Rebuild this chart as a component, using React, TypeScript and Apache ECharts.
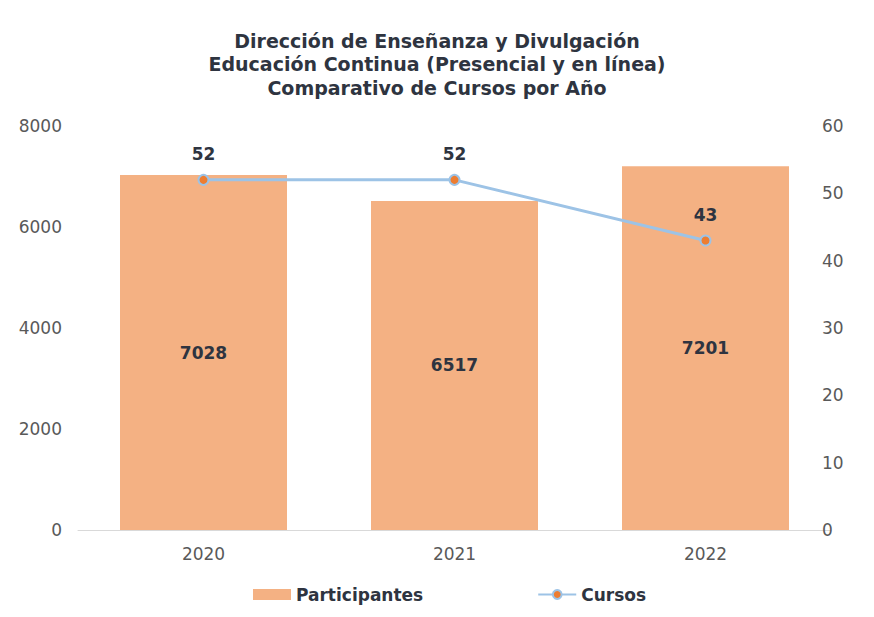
import React, { useEffect, useRef } from "react";
import * as echarts from "echarts";

const categories = ["2020", "2021", "2022"];
const participantes = [7028, 6517, 7201];
const cursos = [52, 52, 43];
const titleLines = [
  "Dirección de Enseñanza y Divulgación",
  "Educación Continua (Presencial y en línea)",
  "Comparativo de Cursos por Año",
];

export default function App() {
  const ref = useRef<HTMLDivElement>(null);
  useEffect(() => {
    if (!ref.current) return;
    const chart = echarts.init(ref.current, null, { renderer: "svg" });
    const font = "'DejaVu Sans', 'Open Sans', sans-serif";
    chart.setOption({
      animation: false,
      backgroundColor: "#ffffff",
      textStyle: { fontFamily: font },
      title: {
        text: titleLines.join("\n"),
        left: "center",
        top: 16,
        textStyle: {
          fontFamily: font,
          fontSize: 19,
          fontWeight: "bold",
          color: "#2E3440",
          lineHeight: 23.5,
        },
      },
      legend: {
        bottom: 1,
        left: 240,
        itemGap: 114,
        itemWidth: 38,
        itemHeight: 11,
        textStyle: { fontFamily: font, fontSize: 17, fontWeight: "bold", color: "#2E3440" },
        data: [
          { name: "Participantes", icon: "rect" },
          { name: "Cursos" },
        ],
      },
      grid: { left: 70, right: 35, top: 118, bottom: 79, containLabel: false },
      xAxis: {
        type: "category",
        data: categories,
        axisLine: { show: true, lineStyle: { color: "#D9D9D9" } },
        axisTick: { show: false },
        axisLabel: { fontFamily: font, fontSize: 17, color: "#595959", margin: 15 },
      },
      yAxis: [
        {
          type: "value",
          min: 0,
          max: 8000,
          interval: 2000,
          splitLine: { show: false },
          axisLine: { show: false },
          axisTick: { show: false },
          axisLabel: {
            fontFamily: font,
            fontSize: 17,
            color: "#595959",
            margin: 16,
            formatter: (v: number) => String(v),
          },
        },
        {
          type: "value",
          min: 0,
          max: 60,
          interval: 10,
          splitLine: { show: false },
          axisLine: { show: false },
          axisTick: { show: false },
          axisLabel: { fontFamily: font, fontSize: 17, color: "#595959", margin: -9, align: "left" },
        },
      ],
      series: [
        {
          name: "Participantes",
          type: "bar",
          data: participantes,
          barWidth: 167,
          itemStyle: { color: "#F4B183" },
          label: {
            show: true,
            position: "inside",
            fontFamily: font,
            fontSize: 17,
            fontWeight: "bold",
            color: "#2E3440",
          },
        },
        {
          name: "Cursos",
          type: "line",
          yAxisIndex: 1,
          data: cursos,
          symbol: "circle",
          symbolSize: 10,
          lineStyle: { color: "#9DC3E6", width: 3 },
          itemStyle: { color: "#ED7D31", borderColor: "#9DC3E6", borderWidth: 2 },
          label: {
            show: true,
            position: "top",
            distance: 11,
            fontFamily: font,
            fontSize: 17,
            fontWeight: "bold",
            color: "#2E3440",
          },
        },
      ],
    });
    return () => chart.dispose();
  }, []);
  return <div ref={ref} style={{ width: 858, height: 601 }} />;
}
